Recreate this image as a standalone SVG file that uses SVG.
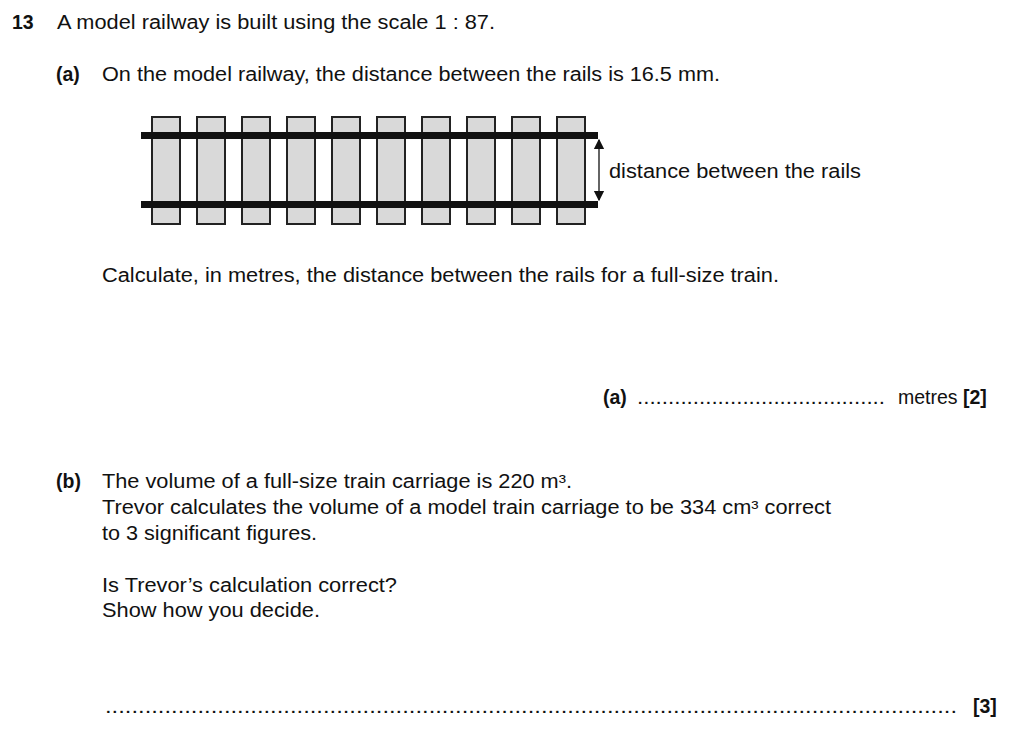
<svg xmlns="http://www.w3.org/2000/svg" width="1010" height="749" viewBox="0 0 1010 749">
<style>
text{font-family:"Liberation Sans",Arial,sans-serif;font-size:19.5px;fill:#111}
.b{font-weight:bold}
.s{fill:#d9d9d9;stroke:#222;stroke-width:2}
</style>
<defs><marker id="ah" markerWidth="8" markerHeight="10" refX="7" refY="5" orient="auto"><path d="M0,1 L8,5 L0,9 Z" fill="#111"/></marker></defs>
<rect width="1010" height="749" fill="#fff"/>
<text x="12" y="29" class="b">13</text>
<text x="57" y="29" textLength="438" lengthAdjust="spacingAndGlyphs">A model railway is built using the scale 1 : 87.</text>
<text x="56" y="81" class="b">(a)</text>
<text x="102" y="81" textLength="618" lengthAdjust="spacingAndGlyphs">On the model railway, the distance between the rails is 16.5 mm.</text>
<g id="track">
<rect class="s" x="152" y="117" width="28" height="107"/>
<rect class="s" x="197" y="117" width="28" height="107"/>
<rect class="s" x="242" y="117" width="28" height="107"/>
<rect class="s" x="287" y="117" width="28" height="107"/>
<rect class="s" x="332" y="117" width="28" height="107"/>
<rect class="s" x="377" y="117" width="28" height="107"/>
<rect class="s" x="422" y="117" width="28" height="107"/>
<rect class="s" x="467" y="117" width="28" height="107"/>
<rect class="s" x="512" y="117" width="28" height="107"/>
<rect class="s" x="557" y="117" width="28" height="107"/>
<rect x="141" y="132" width="457" height="7" fill="#111"/>
<rect x="141" y="201" width="457" height="7" fill="#111"/>
</g>
<g id="connectors">
<line x1="599" y1="170" x2="599" y2="140" stroke="#111" stroke-width="1.3" marker-end="url(#ah)"/>
<line x1="599" y1="170" x2="599" y2="200" stroke="#111" stroke-width="1.3" marker-end="url(#ah)"/>
</g>
<text x="609" y="178" textLength="252" lengthAdjust="spacingAndGlyphs">distance between the rails</text>
<text x="102" y="282" textLength="677" lengthAdjust="spacingAndGlyphs">Calculate, in metres, the distance between the rails for a full-size train.</text>
<text x="603" y="404" class="b">(a)</text>
<text x="637" y="404" textLength="248" lengthAdjust="spacingAndGlyphs">........................................</text>
<text x="898" y="404">metres <tspan class="b">[2]</tspan></text>
<text x="56" y="488" class="b">(b)</text>
<text x="102" y="488" textLength="470" lengthAdjust="spacingAndGlyphs">The volume of a full-size train carriage is 220 m³.</text>
<text x="102" y="514" textLength="729" lengthAdjust="spacingAndGlyphs">Trevor calculates the volume of a model train carriage to be 334 cm³ correct</text>
<text x="102" y="540" textLength="215" lengthAdjust="spacingAndGlyphs">to 3 significant figures.</text>
<text x="102" y="592" textLength="295" lengthAdjust="spacingAndGlyphs">Is Trevor’s calculation correct?</text>
<text x="102" y="617" textLength="218" lengthAdjust="spacingAndGlyphs">Show how you decide.</text>
<text x="105" y="713" textLength="852" lengthAdjust="spacingAndGlyphs">.................................................................................................................................</text>
<text x="973" y="713" class="b">[3]</text>
</svg>
